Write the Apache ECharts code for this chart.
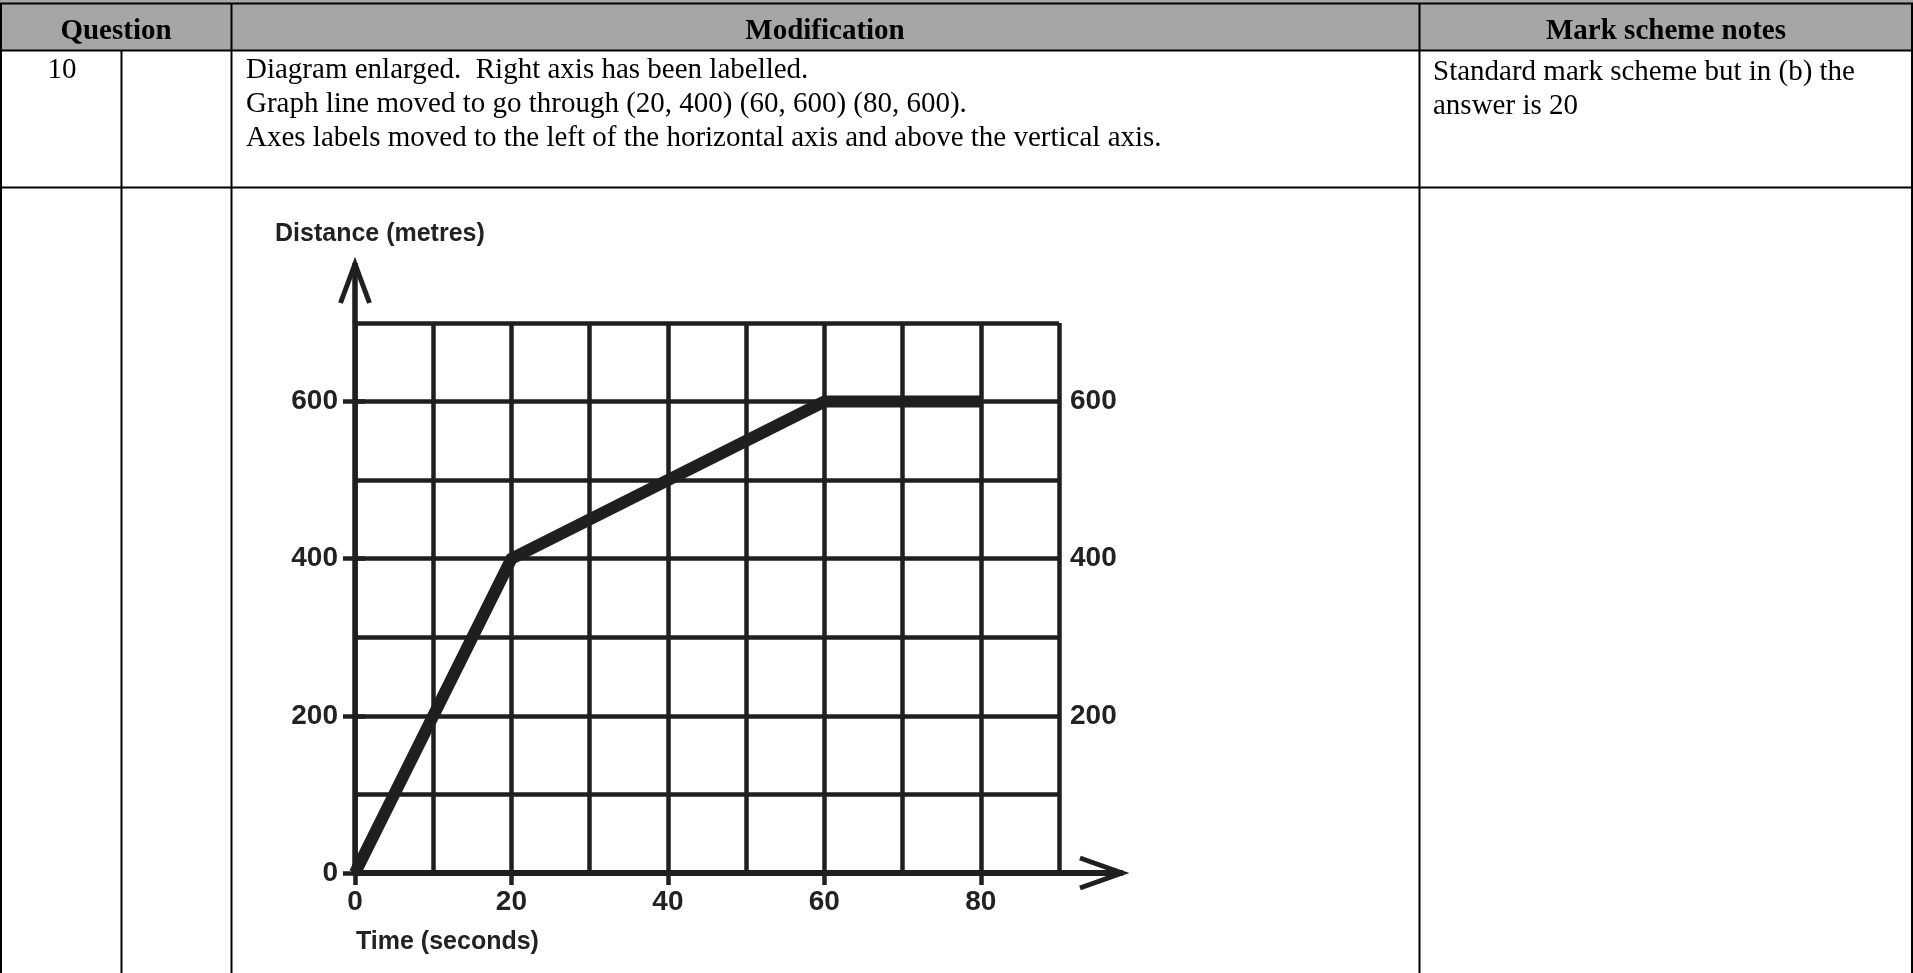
<!DOCTYPE html>
<html>
<head>
<meta charset="utf-8">
<title>Distance-time graph</title>
<script src="https://cdn.jsdelivr.net/npm/echarts@6/dist/echarts.min.js"></script>
<style>
  html, body { margin: 0; padding: 0; background: #fff; }
  #main { width: 1913px; height: 973px; }
</style>
</head>
<body>
<div id="main"></div>
<script>
// graph data
const timeSeconds = [0, 20, 60, 80]
const distanceMetres = [0, 400, 600, 600]
const xTickValues = [0, 20, 40, 60, 80]
const yTickValuesLeft = [0, 200, 400, 600]
const yTickValuesRight = [200, 400, 600]
const xAxisName = 'Time (seconds)'
const yAxisName = 'Distance (metres)'

// table text
const headerTexts = ['Question', 'Modification', 'Mark scheme notes']
const questionNumber = '10'
const modificationLines = [
  'Diagram enlarged.  Right axis has been labelled.',
  'Graph line moved to go through (20, 400) (60, 600) (80, 600).',
  'Axes labels moved to the left of the horizontal axis and above the vertical axis.'
]
const markSchemeLines = [
  'Standard mark scheme but in (b) the',
  'answer is 20'
]

const INK = '#1f1f1d'
const SERIF = '"Liberation Serif", "Times New Roman", serif'
const SANS = '"Liberation Sans", Arial, sans-serif'

const chart = echarts.init(document.getElementById('main'))

// table lines and texts
function tableGraphics() {
  const W = 1913, H = 973
  const g = []
  g.push({ type: 'rect', shape: { x: 0, y: 0, width: W, height: 50 }, style: { fill: '#a6a6a6' }, z: 0 })
  const hLines = [3.5, 50.5, 187.5]
  hLines.forEach(y => g.push({ type: 'line', shape: { x1: 0, y1: y, x2: W, y2: y }, style: { stroke: '#000', lineWidth: 2 } }))
  const vLines = [1, 231.5, 1419.5, 1912]
  vLines.forEach(x => g.push({ type: 'line', shape: { x1: x, y1: 3, x2: x, y2: H }, style: { stroke: '#000', lineWidth: 2 } }))
  g.push({ type: 'line', shape: { x1: 121.5, y1: 50, x2: 121.5, y2: H }, style: { stroke: '#000', lineWidth: 2 } })

  const headerX = [116, 825, 1666]
  headerTexts.forEach((t, i) => g.push({
    type: 'text', x: headerX[i], y: 32,
    style: { text: t, font: 'bold 29px ' + SERIF, fill: '#000', align: 'center', verticalAlign: 'middle' }
  }))
  g.push({
    type: 'text', x: 62, y: 70,
    style: { text: questionNumber, font: '29px ' + SERIF, fill: '#000', align: 'center', verticalAlign: 'middle' }
  })
  modificationLines.forEach((t, i) => g.push({
    type: 'text', x: 246, y: 70.5 + i * 34,
    style: { text: t, font: '29px ' + SERIF, fill: '#000', align: 'left', verticalAlign: 'middle' }
  }))
  markSchemeLines.forEach((t, i) => g.push({
    type: 'text', x: 1433, y: 72.5 + i * 33.5,
    style: { text: t, font: '29px ' + SERIF, fill: '#000', align: 'left', verticalAlign: 'middle' }
  }))
  return g
}

const tickLabel = { color: '#222', fontSize: 28, fontWeight: 'bold', fontFamily: SANS }
const gridLine = { show: true, lineStyle: { color: INK, width: 4.5 } }
const hidden = { axisLine: { show: false }, axisTick: { show: false }, axisLabel: { show: false } }

const option = {
  animation: false,
  backgroundColor: '#fff',
  grid: { left: 355, top: 323, width: 704, height: 550 },
  xAxis: [
    {
      type: 'value', min: 0, max: 90, interval: 10, position: 'bottom',
      axisLine: { show: true, onZero: false, lineStyle: { color: INK, width: 6 } },
      axisTick: { show: true, length: 12, customValues: xTickValues, lineStyle: { color: INK, width: 4.5 } },
      axisLabel: { customValues: xTickValues, margin: 15, ...tickLabel },
      splitLine: { show: false }
    },
    // grid lines every 10 seconds
    { type: 'value', min: 0, max: 90, interval: 10, position: 'top', ...hidden, splitLine: gridLine }
  ],
  yAxis: [
    {
      type: 'value', min: 0, max: 700, interval: 100, position: 'left',
      axisLine: { show: true, onZero: false, lineStyle: { color: INK, width: 5.5 } },
      axisTick: { show: true, length: 12, customValues: yTickValuesLeft, lineStyle: { color: INK, width: 4.5 } },
      axisLabel: { customValues: yTickValuesLeft, margin: 17, padding: [6, 0, 0, 0], ...tickLabel },
      splitLine: { show: false }
    },
    {
      type: 'value', min: 0, max: 700, interval: 100, position: 'right',
      axisLine: { show: false },
      axisTick: { show: true, length: 10, customValues: yTickValuesRight, lineStyle: { color: INK, width: 4.5 } },
      axisLabel: { customValues: yTickValuesRight, margin: 11, padding: [6, 0, 0, 0], ...tickLabel },
      splitLine: { show: false }
    },
    // grid lines every 100 metres
    { type: 'value', min: 0, max: 700, interval: 100, position: 'right', offset: 0, ...hidden, splitLine: gridLine }
  ],
  series: [{
    type: 'line',
    xAxisIndex: 0,
    yAxisIndex: 0,
    data: timeSeconds.map((t, i) => [t, distanceMetres[i]]),
    symbol: 'none',
    lineStyle: { color: INK, width: 12, cap: 'butt', join: 'miter' },
    z: 5
  }],
  graphic: tableGraphics()
}

chart.setOption(option)

// axis arrows and axis names, placed from the chart's own scales
const origin = chart.convertToPixel({ gridIndex: 0 }, [0, 0])
const yTop = chart.convertToPixel({ gridIndex: 0 }, [0, 700])
const xEnd = chart.convertToPixel({ gridIndex: 0 }, [90, 0])
const yTip = yTop[1] - 60
const xTip = xEnd[0] + 64
const arrowStyle = { stroke: INK, lineWidth: 5, lineCap: 'butt', lineJoin: 'miter', fill: null }

const extra = [
  { type: 'line', shape: { x1: origin[0], y1: yTop[1], x2: origin[0], y2: yTip }, style: { ...arrowStyle, lineWidth: 5.5 }, z: 10 },
  { type: 'polyline', shape: { points: [[origin[0] - 14.5, yTip + 40], [origin[0], yTip + 1], [origin[0] + 14.5, yTip + 40]] }, style: arrowStyle, z: 10 },
  { type: 'line', shape: { x1: xEnd[0], y1: origin[1], x2: xTip, y2: origin[1] }, style: { ...arrowStyle, lineWidth: 6 }, z: 10 },
  { type: 'polyline', shape: { points: [[xTip - 43, origin[1] - 15], [xTip - 1, origin[1]], [xTip - 43, origin[1] + 15]] }, style: arrowStyle, z: 10 },
  {
    type: 'text', x: origin[0] - 80, y: yTop[1] - 89,
    style: { text: yAxisName, font: 'bold 25px ' + SANS, fill: '#222', align: 'left', verticalAlign: 'middle' }, z: 10
  },
  {
    type: 'text', x: origin[0] + 1, y: origin[1] + 69,
    style: { text: xAxisName, font: 'bold 25px ' + SANS, fill: '#222', align: 'left', verticalAlign: 'middle' }, z: 10
  }
]

chart.setOption({ graphic: tableGraphics().concat(extra) })
</script>
</body>
</html>
